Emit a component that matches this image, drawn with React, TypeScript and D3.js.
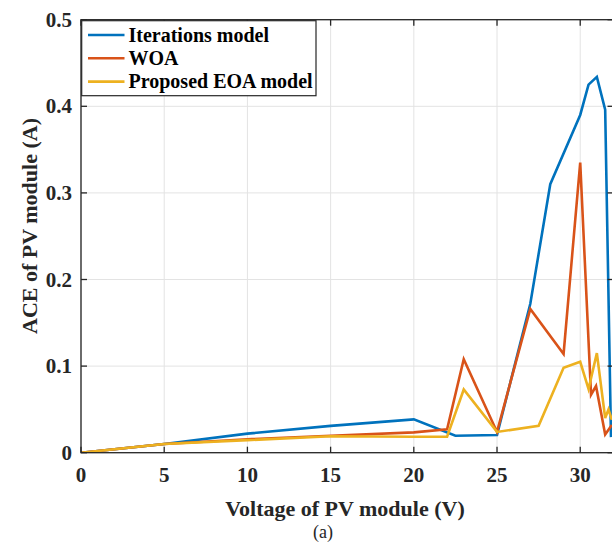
import React from "react";
import * as d3 from "d3";

const xTicks = [0, 5, 10, 15, 20, 25, 30];
const yTicks = [0, 0.1, 0.2, 0.3, 0.4, 0.5];
const yTickLabels = ["0", "0.1", "0.2", "0.3", "0.4", "0.5"];

const seriesNames = ["Iterations model", "WOA", "Proposed EOA model"];
const seriesColors = ["#0072BD", "#D95319", "#EDB120"];

const iterX = [0, 5, 10, 15, 20, 22.5, 25, 27, 28.2, 30, 30.5, 31, 31.5, 31.85];
const iterY = [0, 0.010, 0.022, 0.031, 0.0385, 0.0195, 0.0205, 0.172, 0.31, 0.39, 0.425, 0.434, 0.396, 0.018];

const woaX = [0, 5, 10, 15, 20, 22, 23, 25, 27, 29, 30, 30.65, 30.95, 31.5, 31.9];
const woaY = [0, 0.010, 0.0155, 0.0195, 0.0235, 0.027, 0.108, 0.024, 0.166, 0.114, 0.335, 0.067, 0.077, 0.021, 0.032];

const eoaX = [0, 5, 10, 15, 20, 22, 23, 25, 27.5, 29, 30, 30.5, 31, 31.5, 31.7, 31.9];
const eoaY = [0, 0.010, 0.0145, 0.019, 0.0185, 0.0185, 0.073, 0.024, 0.031, 0.098, 0.105, 0.0735, 0.115, 0.04, 0.05, 0.038];

const W = 612;
const H = 542;
const left = 81;
const right = 613.5;
const top = 19.7;
const bottom = 452.7;

export default function App() {
  const x = d3.scaleLinear().domain([0, 32]).range([left, right]);
  const y = d3.scaleLinear().domain([0, 0.5]).range([bottom, top]);
  const line = d3
    .line<[number, number]>()
    .x((d) => x(d[0]))
    .y((d) => y(d[1]));
  const series = [
    iterX.map((v, i) => [v, iterY[i]] as [number, number]),
    woaX.map((v, i) => [v, woaY[i]] as [number, number]),
    eoaX.map((v, i) => [v, eoaY[i]] as [number, number]),
  ];
  const font = "'Liberation Serif', 'Times New Roman', serif";
  const axisColor = "#262626";
  const gridColor = "#e3e3e3";
  const tickLen = 6;

  return (
    <svg
      width={W}
      height={H}
      style={{ position: "absolute", left: 0, top: 0, background: "#fff" }}
      fontFamily={font}
    >
      <defs>
        <clipPath id="plotClip">
          <rect x={left} y={top} width={right - left} height={bottom - top} />
        </clipPath>
      </defs>
      <rect x={0} y={0} width={W} height={H} fill="#fff" />
      {xTicks.map((t) => (
        <line key={"gx" + t} x1={x(t)} x2={x(t)} y1={top} y2={bottom} stroke={gridColor} strokeWidth={1} />
      ))}
      {yTicks.map((t) => (
        <line key={"gy" + t} x1={left} x2={right} y1={y(t)} y2={y(t)} stroke={gridColor} strokeWidth={1} />
      ))}
      <g clipPath="url(#plotClip)">
        {series.map((s, i) => (
          <path
            key={i}
            d={line(s) || ""}
            fill="none"
            stroke={seriesColors[i]}
            strokeWidth={2.6}
            strokeLinejoin="miter"
            strokeMiterlimit={4}
          />
        ))}
      </g>
      <rect x={left} y={top} width={right - left} height={bottom - top} fill="none" stroke={axisColor} strokeWidth={1.3} />
      {xTicks.map((t) => (
        <g key={"tx" + t}>
          <line x1={x(t)} x2={x(t)} y1={bottom} y2={bottom - tickLen} stroke={axisColor} strokeWidth={1.3} />
          <line x1={x(t)} x2={x(t)} y1={top} y2={top + tickLen} stroke={axisColor} strokeWidth={1.3} />
          <text x={x(t)} y={481.5} textAnchor="middle" fontSize={21} fontWeight="bold" fill={axisColor}>
            {t}
          </text>
        </g>
      ))}
      {yTicks.map((t, i) => (
        <g key={"ty" + t}>
          <line x1={left} x2={left + tickLen} y1={y(t)} y2={y(t)} stroke={axisColor} strokeWidth={1.3} />
          <line x1={right} x2={right - tickLen} y1={y(t)} y2={y(t)} stroke={axisColor} strokeWidth={1.3} />
          <text x={72} y={y(t) + 7} textAnchor="end" fontSize={21} fontWeight="bold" fill={axisColor}>
            {yTickLabels[i]}
          </text>
        </g>
      ))}
      <text x={345} y={516} textAnchor="middle" fontSize={22} fontWeight="bold" fill={axisColor}>
        Voltage of PV module (V)
      </text>
      <text x={323} y={538} textAnchor="middle" fontSize={18} fill={axisColor}>
        (a)
      </text>
      <text
        transform={`translate(37, 226) rotate(-90)`}
        textAnchor="middle"
        fontSize={22}
        fontWeight="bold"
        fill={axisColor}
      >
        ACE of PV module (A)
      </text>
      <rect x={81.7} y={20.7} width={234.3} height={75} fill="#fff" stroke={axisColor} strokeWidth={1.2} />
      {seriesNames.map((n, i) => {
        const cy = 35 + i * 23.3;
        return (
          <g key={n}>
            <line x1={88} x2={124.5} y1={cy} y2={cy} stroke={seriesColors[i]} strokeWidth={2.6} />
            <text x={128.5} y={cy + 6.5} fontSize={20} fontWeight="bold" fill="#000">
              {n}
            </text>
          </g>
        );
      })}
    </svg>
  );
}
